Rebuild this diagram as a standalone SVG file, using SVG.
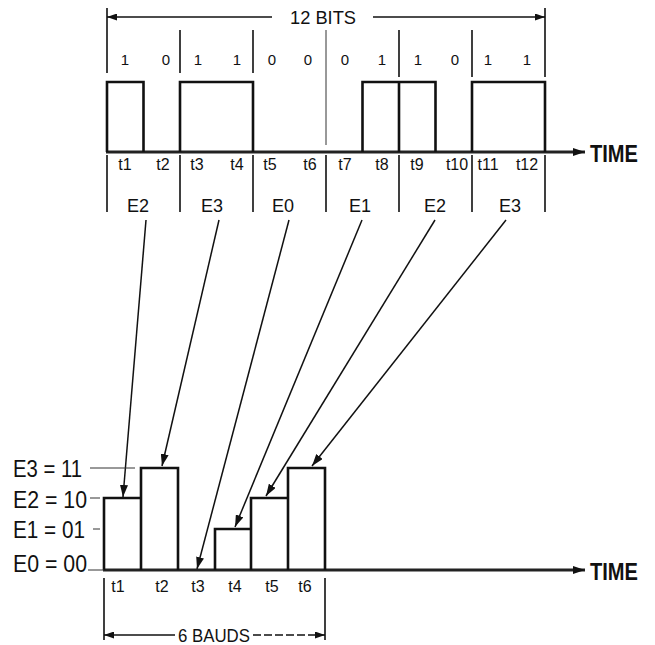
<svg xmlns="http://www.w3.org/2000/svg" width="655" height="645" viewBox="0 0 655 645">
<style>
text{font-family:"Liberation Sans","DejaVu Sans",sans-serif;fill:#111}
.bit{font-size:15px;text-anchor:middle}
.t{font-size:16px;text-anchor:middle}
.e{font-size:18px;text-anchor:middle}
.lv{font-size:23px}
.time{font-size:24px;font-weight:bold}
.dim{font-size:19px}
.w{fill:none;stroke:#111;stroke-width:2.6}
.base{fill:none;stroke:#222;stroke-width:3}
.div{fill:none;stroke:#111;stroke-width:1.6}
.thin{fill:none;stroke:#333;stroke-width:1}
.arr{fill:none;stroke:#111;stroke-width:1.5}
</style>
<defs>
<marker id="ah" viewBox="0 0 12 8" refX="12" refY="4" markerWidth="12" markerHeight="8" markerUnits="userSpaceOnUse" orient="auto">
<path d="M0,0 L12,4 L0,8 Z" fill="#111"/>
</marker>
<marker id="ahs" viewBox="0 0 10 7" refX="10" refY="3.5" markerWidth="10" markerHeight="7" markerUnits="userSpaceOnUse" orient="auto-start-reverse">
<path d="M0,0 L10,3.5 L0,7 Z" fill="#111"/>
</marker>
</defs>

<g id="top-chart">
<path class="base" d="M106,152 H585" marker-end="url(#ah)"/>
<path class="w" d="M107,152 V82 H143.5 V152 M180,152 V82 H253 V152 M362.5,152 V82 H435.5 V152 M399,82 V152 M472,152 V82 H545 V152"/>
<path class="div" d="M107,8 V73 M545,8 V77 M180,30 V73 M253,30 V73 M399,30 V77 M472,30 V77"/>
<path class="thin" d="M326,30 V145"/>
<path class="div" d="M107,155 V212 M180,155 V212 M253,155 V212 M326,155 V212 M399,155 V212 M472,155 V212 M545,155 V212"/>
<text class="time" x="590" y="162" textLength="48" lengthAdjust="spacingAndGlyphs">TIME</text>
</g>

<g id="bits-dimension">
<path class="arr" d="M272,17 H107" marker-end="url(#ahs)"/>
<path class="arr" d="M373,17 H545" marker-end="url(#ahs)"/>
<text class="dim" x="290" y="24" textLength="66" lengthAdjust="spacingAndGlyphs">12 BITS</text>
</g>

<g id="bit-labels">
<text class="bit" x="125" y="65">1</text>
<text class="bit" x="166" y="65">0</text>
<text class="bit" x="198" y="65">1</text>
<text class="bit" x="237" y="65">1</text>
<text class="bit" x="272" y="65">0</text>
<text class="bit" x="308" y="65">0</text>
<text class="bit" x="345" y="65">0</text>
<text class="bit" x="382" y="65">1</text>
<text class="bit" x="418" y="65">1</text>
<text class="bit" x="455" y="65">0</text>
<text class="bit" x="488" y="65">1</text>
<text class="bit" x="527" y="65">1</text>
</g>

<g id="top-time-labels">
<text class="t" x="125" y="170">t1</text>
<text class="t" x="163" y="170">t2</text>
<text class="t" x="197" y="170">t3</text>
<text class="t" x="237" y="170">t4</text>
<text class="t" x="270" y="170">t5</text>
<text class="t" x="310" y="170">t6</text>
<text class="t" x="345" y="170">t7</text>
<text class="t" x="382" y="170">t8</text>
<text class="t" x="417" y="170">t9</text>
<text class="t" x="457" y="170">t10</text>
<text class="t" x="488" y="170">t11</text>
<text class="t" x="527" y="170">t12</text>
</g>

<g id="symbol-labels">
<text class="e" x="138" y="212">E2</text>
<text class="e" x="212" y="212">E3</text>
<text class="e" x="283" y="212">E0</text>
<text class="e" x="360" y="212">E1</text>
<text class="e" x="435" y="212">E2</text>
<text class="e" x="510" y="212">E3</text>
</g>

<g id="connectors">
<path class="arr" d="M146,220 L123,497" marker-end="url(#ah)"/>
<path class="arr" d="M219,220 L162,466" marker-end="url(#ah)"/>
<path class="arr" d="M289,220 L197,569" marker-end="url(#ah)"/>
<path class="arr" d="M362,220 L235,527" marker-end="url(#ah)"/>
<path class="arr" d="M435,220 L266,496" marker-end="url(#ah)"/>
<path class="arr" d="M506,220 L312,466" marker-end="url(#ah)"/>
</g>

<g id="bottom-chart">
<path class="base" d="M103,570 H585" marker-end="url(#ah)"/>
<path class="w" d="M104,570 V498 H141 V570 M141,570 V468 H178 V570 M215,570 V529 H251 V570 M251,570 V498 H288 V570 M288,570 V468 H325 V570"/>
<path class="thin" d="M90,468 H135 M90,498 H100 M93,529 H100 M88,570 H104"/>
<path class="div" d="M104,578 V640 M325,578 V640"/>
<text class="time" x="590" y="580" textLength="48" lengthAdjust="spacingAndGlyphs">TIME</text>
</g>

<g id="level-labels">
<text class="lv" x="13" y="477" textLength="69" lengthAdjust="spacingAndGlyphs">E3 = 11</text>
<text class="lv" x="13" y="508" textLength="74" lengthAdjust="spacingAndGlyphs">E2 = 10</text>
<text class="lv" x="13" y="538" textLength="72" lengthAdjust="spacingAndGlyphs">E1 = 01</text>
<text class="lv" x="13" y="572" textLength="74" lengthAdjust="spacingAndGlyphs">E0 = 00</text>
</g>

<g id="bottom-time-labels">
<text class="t" x="118" y="592">t1</text>
<text class="t" x="162" y="592">t2</text>
<text class="t" x="198" y="592">t3</text>
<text class="t" x="235" y="592">t4</text>
<text class="t" x="272" y="592">t5</text>
<text class="t" x="305" y="592">t6</text>
</g>

<g id="bauds-dimension">
<path class="arr" d="M175,635 H104" marker-end="url(#ahs)"/>
<path class="arr" d="M253,635 H325" stroke-dasharray="8,3" marker-end="url(#ahs)"/>
<text class="dim" x="178" y="642" textLength="72" lengthAdjust="spacingAndGlyphs">6 BAUDS</text>
</g>
</svg>
